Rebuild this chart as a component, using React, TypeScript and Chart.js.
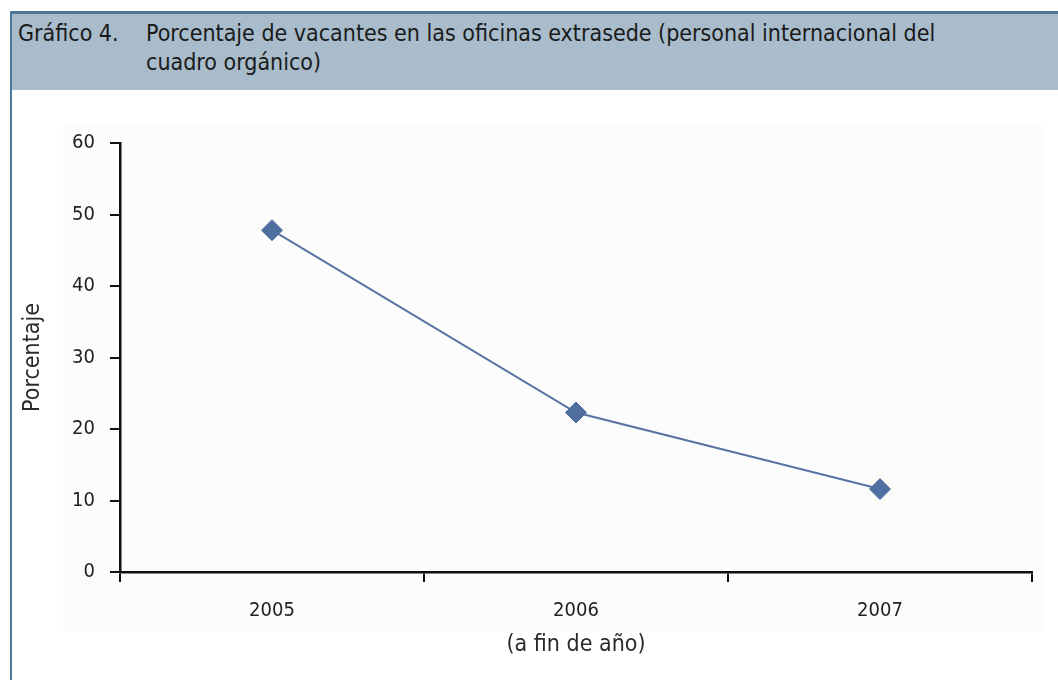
import React, { useEffect, useRef } from "react";
import { Chart, registerables } from "chart.js";

Chart.register(...registerables);

const categories = ["2005", "2006", "2007"];
const vacancyPct = [47.8, 22.3, 11.6];
const yMin = 0;
const yMax = 60;
const yStep = 10;
const titleLabel = "Gráfico 4.";
const titleLine1 = "Porcentaje de vacantes en las oficinas extrasede (personal internacional del";
const titleLine2 = "cuadro orgánico)";
const yAxisTitle = "Porcentaje";
const xAxisTitle = "(a fin de año)";

const condensed = "'Liberation Sans Narrow', 'DejaVu Sans Condensed', sans-serif";

export default function App() {
  const ref = useRef<HTMLCanvasElement | null>(null);

  useEffect(() => {
    document.body.style.margin = "0";
    const ctx = ref.current!;
    const chart = new Chart(ctx, {
      type: "line",
      data: {
        labels: categories,
        datasets: [
          {
            data: vacancyPct,
            borderColor: "#5873a3",
            backgroundColor: "#4f6fa0",
            borderWidth: 2,
            pointStyle: "rectRot",
            pointRadius: 10.5,
            pointHoverRadius: 10.5,
            pointBackgroundColor: "#4f6fa0",
            pointBorderColor: "#4f6fa0",
            pointBorderWidth: 1,
            tension: 0,
          },
        ],
      },
      options: {
        animation: false,
        responsive: false,
        maintainAspectRatio: false,
        layout: { padding: { left: 0, top: 143, right: 26, bottom: 0 } },
        plugins: { legend: { display: false }, tooltip: { enabled: false } },
        scales: {
          x: {
            type: "category",
            offset: true,
            grid: {
              offset: true,
              drawOnChartArea: false,
              drawTicks: true,
              tickLength: 10,
              color: "#111",
              lineWidth: 2,
            },
            border: { display: true, color: "#111", width: 2.5 },
            ticks: {
              color: "#222",
              padding: 17,
              font: { family: "'DejaVu Sans Condensed', sans-serif", size: 20 },
            },
            title: {
              display: true,
              text: xAxisTitle,
              color: "#2a2a2a",
              padding: { top: 0, bottom: 21 },
              font: { family: condensed, size: 23 },
            },
            afterFit: (scale: any) => {
              scale.height = 108;
            },
          },
          y: {
            min: yMin,
            max: yMax,
            grid: {
              drawOnChartArea: false,
              drawTicks: true,
              tickLength: 10,
              color: "#111",
              lineWidth: 2,
            },
            border: { display: true, color: "#111", width: 2.5 },
            ticks: {
              stepSize: yStep,
              color: "#222",
              padding: 15,
              font: { family: "'DejaVu Sans Condensed', sans-serif", size: 20 },
            },
            title: {
              display: true,
              text: yAxisTitle,
              color: "#2a2a2a",
              padding: { top: 19, bottom: 0 },
              font: { family: condensed, size: 23 },
            },
            afterFit: (scale: any) => {
              scale.width = 120;
            },
          },
        },
      },
    });
    return () => chart.destroy();
  }, []);

  return (
    <div style={{ position: "relative", width: 1058, height: 680, background: "#fff", overflow: "hidden" }}>
      <div
        style={{
          position: "absolute",
          left: 10,
          top: 11,
          width: 1048,
          height: 79,
          background: "#a8bccb",
          borderTop: "3px solid #4d7899",
          boxSizing: "border-box",
        }}
      />
      <div style={{ position: "absolute", left: 10, top: 11, width: 2, height: 669, background: "#4d7899" }} />
      <div
        style={{
          position: "absolute",
          left: 18,
          top: 19,
          display: "flex",
          fontFamily: condensed,
          fontSize: 23,
          lineHeight: "29px",
          color: "#1a1a1a",
        }}
      >
        <div style={{ width: 128 }}>{titleLabel}</div>
        <div>
          <div>{titleLine1}</div>
          <div>{titleLine2}</div>
        </div>
      </div>
      <div style={{ position: "absolute", left: 63, top: 125, width: 980, height: 507, background: "#fcfcfc" }} />
      <canvas ref={ref} width={1058} height={680} style={{ position: "absolute", left: 0, top: 0 }} />
    </div>
  );
}
